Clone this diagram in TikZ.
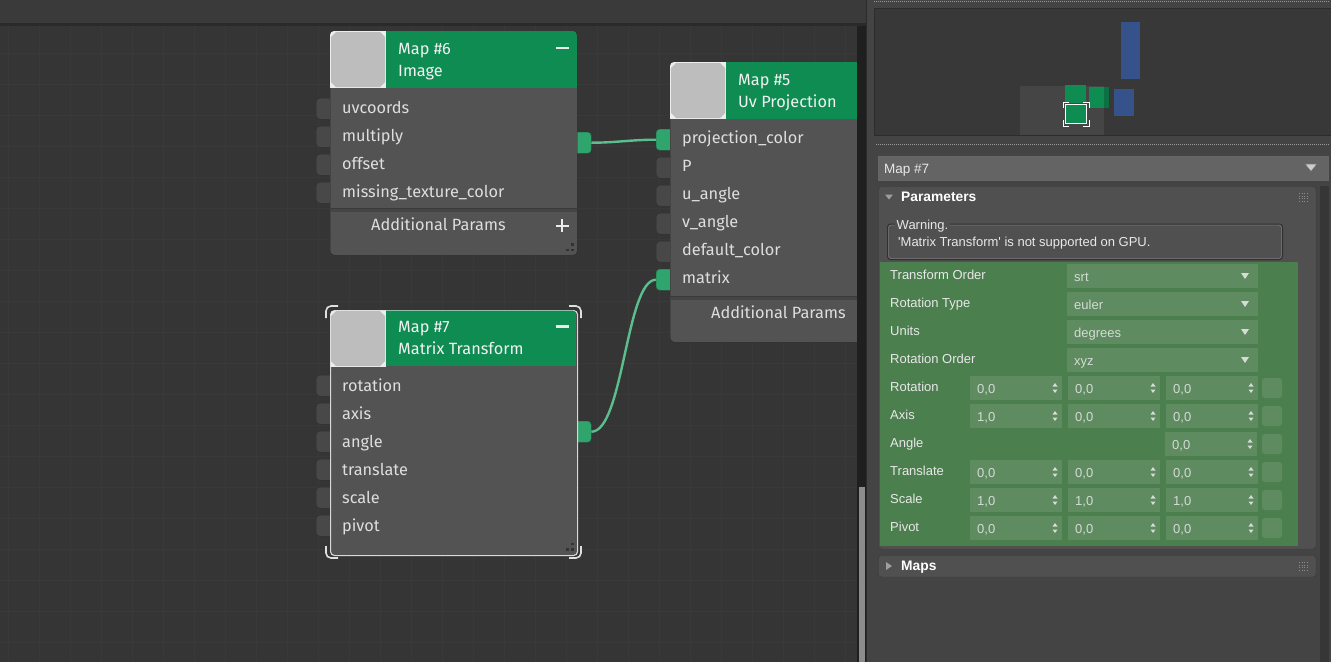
\documentclass[tikz,border=0pt]{standalone}
\usepackage{fontspec}
\setmainfont{Fira Sans}
\newfontfamily\panelfont{Liberation Sans}
\definecolor{topbar}{HTML}{3A3A3A}
\definecolor{darkline}{HTML}{2A2A2A}
\definecolor{canvasc}{HTML}{353535}
\definecolor{gridc}{HTML}{393939}
\definecolor{bodyc}{HTML}{535353}
\definecolor{bodyedge}{HTML}{2B2B2B}
\definecolor{hdrc}{HTML}{0E8C52}
\definecolor{thumbc}{HTML}{BDBDBD}
\definecolor{portc}{HTML}{484848}
\definecolor{portedge}{HTML}{2E2E2E}
\definecolor{porton}{HTML}{2FA46C}
\definecolor{wirec}{HTML}{5CBE8F}
\definecolor{labelc}{HTML}{DEDEDE}
\definecolor{sepc}{HTML}{454545}
\definecolor{sepdark}{HTML}{3A3A3A}
\definecolor{panelc}{HTML}{444444}
\definecolor{minic}{HTML}{383838}
\definecolor{miniedge}{HTML}{2C2C2C}
\definecolor{miniblue}{HTML}{36528A}
\definecolor{minigreen}{HTML}{0E8C52}
\definecolor{barc}{HTML}{646464}
\definecolor{rollc}{HTML}{505050}
\definecolor{rolledge}{HTML}{3A3A3A}
\definecolor{boxedge}{HTML}{303030}
\definecolor{greenc}{HTML}{4B7F4D}
\definecolor{fieldc}{HTML}{5E8B60}
\definecolor{ptext}{HTML}{E8E8E8}
\definecolor{vtext}{HTML}{D4DCD4}
\newcommand\myNodeFont{\fontsize{16.3}{19}\selectfont}
\newcommand\myPanelFont{\panelfont\fontsize{13}{15}\selectfont}
\newcommand\myPanelBold{\panelfont\bfseries\fontsize{13.8}{16}\selectfont}
\newcommand\thumbpic[2]{%
  \begin{scope}[shift={(#1,#2)}]
    \fill[white!93!black] (0,0) rectangle (56,57);
    \fill[thumbc] (6,1) -- (50,1) -- (55,6) -- (55,51) -- (50,56) -- (6,56) -- (1,51) -- (1,6) -- cycle;
  \end{scope}}
\newcommand\gripdots[2]{%
  \begin{scope}[shift={(#1,#2)}]
    \fill[black!80] (5,0) rectangle (7.5,2.5);
    \fill[black!80] (0,5.5) rectangle (2.5,8);
    \fill[black!80] (5,5.5) rectangle (7.5,8);
  \end{scope}}
\newcommand\spinbox[4]{%
  \fill[fieldc] (#1,#2) rectangle ({#1+92},{#2+24});
  \node[pval] (#4) at ({#1+7},{#2+17}) {#3};
  \fill[vtext] ({#1+85},{#2+7}) -- ({#1+82.5},{#2+10.5}) -- ({#1+87.5},{#2+10.5}) -- cycle;
  \fill[vtext] ({#1+85},{#2+17}) -- ({#1+82.5},{#2+13.5}) -- ({#1+87.5},{#2+13.5}) -- cycle;}
\newcommand\sqbtn[1]{%
  \fill[fieldc, rounded corners=3pt] (1262,{#1+2}) rectangle (1282,{#1+22});}
\begin{document}
\begin{tikzpicture}[x=1pt,y=-1pt,
  lbl/.style={anchor=base west, inner sep=0pt, font=\myNodeFont, text=labelc},
  hdrt/.style={anchor=base west, inner sep=0pt, font=\myNodeFont, text=white!95!black},
  pin/.style={draw=portedge, fill=portc, rounded corners=3.5pt, minimum width=18pt, minimum height=21pt, inner sep=0pt, anchor=north west},
  pon/.style={pin, fill=porton, draw=porton!70!black},
  body/.style={fill=bodyc, draw=bodyedge, rounded corners=4pt, inner sep=0pt, anchor=north west},
  wire/.style={draw=wirec, line width=2.4pt},
  plbl/.style={anchor=base west, inner sep=0pt, font=\myPanelFont, text=ptext},
  pval/.style={anchor=base west, inner sep=0pt, font=\myPanelFont, text=vtext},
  pbold/.style={anchor=base west, inner sep=0pt, font=\myPanelBold, text=white},
  bracket/.style={draw=white!88!black, line width=1.6pt, rounded corners=5pt}
]
\useasboundingbox (0,0) rectangle (1331,662);
% ---------- canvas background ----------
\fill[topbar] (0,0) rectangle (866,23);
\fill[darkline] (0,22.5) rectangle (866,26);
\fill[canvasc] (0,26) rectangle (857,662);

\begin{scope}
\clip (0,26) rectangle (857,662);
% faint grid
\foreach \k in {0,...,27} \draw[gridc, line width=1pt] ({8.3+31*\k},26) -- ({8.3+31*\k},662);
\foreach \k in {0,...,20} \draw[gridc, line width=1pt] (0,{22.3+31*\k}) -- (857,{22.3+31*\k});
% ports (drawn under bodies)
\foreach \yy [count=\i] in {98,126,154,182} \node[pin] (i6\i) at (316,\yy) {};
\foreach \yy [count=\i] in {375,403,431,459,487,515} \node[pin] (i7\i) at (316,\yy) {};
\node[pon] (i51) at (656,129) {};
\foreach \yy [count=\i from 2] in {157,185,213,241} \node[pin] (i5\i) at (656,\yy) {};
\node[pon] (i56) at (656,269) {};
\node[pon] (o6) at (573,132) {};
\node[pon] (o7) at (573,421) {};
% wires
\draw[wire] (o6.east) .. controls +(25,0) and +(-25,0) .. (i51.west);
\draw[wire] (o7.east) .. controls +(32,0) and +(-30,0) .. (i56.west);

% ---------- Map #6 ----------
\node[body, minimum width=247pt, minimum height=224pt] (n6) at (330,31) {};
\begin{scope}
  \clip[rounded corners=4pt] (330,31) rectangle (577,255);
  \fill[hdrc] (386,31) rectangle (577,88);
  \thumbpic{330}{31}
  \fill[sepc] (330,208) rectangle (577,212);
  \fill[sepdark] (330,207.5) rectangle (577,209);
\end{scope}
\node[hdrt] (h6a) at (398,54) {Map \#6};
\node[hdrt] (h6b) at (398,76) {Image};
\fill[white!92!black] (556,46.5) rectangle (569,49);
\foreach \t [count=\i from 0] in {uvcoords,multiply,offset,missing\_texture\_color}
  \node[lbl] (l6\i) at (342,{113.5+28*\i}) {\t};
\node[lbl] (a6) at (371,230.5) {Additional Params};
\fill[white!92!black] (555.5,224.5) rectangle (568.5,227);
\fill[white!92!black] (560.75,219.3) rectangle (563.25,232.3);
\gripdots{566}{243}

% ---------- Map #7 ----------
\node[body, draw=white!85!black, line width=1.1pt, minimum width=247pt, minimum height=245pt] (n7) at (330,310) {};
\begin{scope}
  \clip[rounded corners=4pt] (330.6,310.6) rectangle (576.4,554.4);
  \fill[hdrc] (386,310) rectangle (577,366);
  \thumbpic{330}{310}
\end{scope}
\draw[bracket] (326,318) -- (326,306) -- (338,306);
\draw[bracket] (569,306) -- (581,306) -- (581,318);
\draw[bracket] (326,546) -- (326,558) -- (338,558);
\draw[bracket] (569,558) -- (581,558) -- (581,546);
\node[hdrt] (h7a) at (398,332) {Map \#7};
\node[hdrt] (h7b) at (398,354.5) {Matrix Transform};
\fill[white!92!black] (556,325) rectangle (569,327.5);
\foreach \t [count=\i from 0] in {rotation,axis,angle,translate,scale,pivot}
  \node[lbl] (l7\i) at (342,{391.5+28*\i}) {\t};
\gripdots{566}{542.5}

% ---------- Map #5 ----------
\node[body, minimum width=247pt, minimum height=280pt] (n5) at (670,62) {};
\begin{scope}
  \clip[rounded corners=4pt] (670,62) rectangle (917,342);
  \fill[hdrc] (726,62) rectangle (917,119);
  \thumbpic{670}{62}
  \fill[sepc] (670,296) rectangle (917,300);
  \fill[sepdark] (670,295.5) rectangle (917,297);
\end{scope}
\node[hdrt] (h5a) at (738,85) {Map \#5};
\node[hdrt] (h5b) at (738,107) {Uv Projection};
\foreach \t [count=\i from 0] in {projection\_color,P,u\_angle,v\_angle,default\_color,matrix}
  \node[lbl] (l5\i) at (682,{143.5+28*\i}) {\t};
\node[lbl] (a5) at (711,318) {Additional Params};
\end{scope}

% canvas scrollbar
\fill[black!88] (857,26) rectangle (866,662);
\fill[black!45] (858.5,487) rectangle (864.5,662);

% ---------- right panel ----------
\fill[panelc] (866,0) rectangle (1331,662);
\fill[black!83] (866,0) rectangle (867,662);
\draw[black!40, line width=1pt, dash pattern=on 1pt off 1pt] (874,1.5) -- (1329,1.5);
\draw[black!40, line width=1pt, dash pattern=on 1pt off 1pt] (876,144.5) -- (1329,144.5);
% minimap
\fill[minic, draw=miniedge] (874.5,8.5) rectangle (1332,135.5);
\fill[white!27!black] (1020,86) rectangle (1104,135);
\fill[miniblue] (1121,22) rectangle (1140,79);
\fill[miniblue] (1114,89) rectangle (1134,116);
\fill[minigreen] (1065,85) rectangle (1086,103);
\fill[minigreen] (1089,87) rectangle (1109,108);
\fill[minigreen!80!black] (1104,87) rectangle (1109,108);
\fill[minigreen, draw=white, line width=0.8pt] (1065.5,104.5) rectangle (1086.5,123.5);
\draw[white, line width=0.8pt] (1063,108) -- (1063,102) -- (1069,102);
\draw[white, line width=0.8pt] (1083,102) -- (1089,102) -- (1089,108);
\draw[white, line width=0.8pt] (1063,120) -- (1063,126) -- (1069,126);
\draw[white, line width=0.8pt] (1083,126) -- (1089,126) -- (1089,120);
% Map #7 bar
\fill[barc, draw=black!60] (878.5,156.5) rectangle (1328,180);
\node[plbl, font=\panelfont\fontsize{13.5}{15}\selectfont] (mtitle) at (884,173) {Map \#7};
\fill[white!80!black, draw=black!55, line width=0.6pt] (1305,164) -- (1317,164) -- (1311,171.5) -- cycle;
% panel scrollbar strip
\fill[black!20!panelc] (1320,186) rectangle (1329,662);
% Parameters rollout
\fill[rollc, draw=rolledge, rounded corners=3pt] (878.5,186.5) rectangle (1316,549);
\fill[white!62!black] (885,194.5) -- (893,194.5) -- (889,199.5) -- cycle;
\node[pbold] (ptitle) at (901,201.5) {Parameters};
\foreach \gx in {0,2.5,5,7.5} \foreach \gy in {0,2.5,5,7.5}
  \fill[white!55!black] ({1299+\gx},{193+\gy}) rectangle ({1300+\gx},{194+\gy});
% warning box
\draw[boxedge, line width=1pt, rounded corners=3pt] (887.5,224) rectangle (1282.5,259.5);
\draw[white!25!rollc, line width=0.6pt, rounded corners=2.5pt] (888.6,225.1) rectangle (1281.4,258.4);
\node[plbl, fill=rollc, inner sep=1.5pt] (wlbl) at (895,229.5) {Warning.};
\node[plbl] (wtxt) at (898,246.5) {'Matrix Transform' is not supported on GPU.};
% green parameter area
\fill[greenc] (880,262) rectangle (1298,546);
\foreach \t [count=\i from 0] in {Transform Order,Rotation Type,Units,Rotation Order,Rotation,Axis,Angle,Translate,Scale,Pivot}
  \node[plbl] (pl\i) at (890,{279+28*\i}) {\t};
\foreach \v [count=\i from 0] in {srt,euler,degrees,xyz} {
  \fill[fieldc] (1067,{264+28*\i}) rectangle (1258,{288+28*\i});
  \node[pval] (dd\i) at (1074,{281+28*\i}) {\v};
  \fill[vtext] (1241,{273+28*\i}) -- (1249,{273+28*\i}) -- (1245,{279+28*\i}) -- cycle;
}
% spinner rows
\spinbox{970}{376}{0,0}{s11}\spinbox{1068}{376}{0,0}{s12}\spinbox{1166}{376}{0,0}{s13}\sqbtn{376}
\spinbox{970}{404}{1,0}{s21}\spinbox{1068}{404}{0,0}{s22}\spinbox{1166}{404}{0,0}{s23}\sqbtn{404}
\spinbox{1165}{432}{0,0}{s33}\sqbtn{432}
\spinbox{970}{460}{0,0}{s41}\spinbox{1068}{460}{0,0}{s42}\spinbox{1166}{460}{0,0}{s43}\sqbtn{460}
\spinbox{970}{488}{1,0}{s51}\spinbox{1068}{488}{1,0}{s52}\spinbox{1166}{488}{1,0}{s53}\sqbtn{488}
\spinbox{970}{516}{0,0}{s61}\spinbox{1068}{516}{0,0}{s62}\spinbox{1166}{516}{0,0}{s63}\sqbtn{516}
% Maps rollout
\fill[rollc, draw=rolledge, rounded corners=3pt] (878.5,555.5) rectangle (1316,577);
\fill[white!62!black] (886,562) -- (886,570) -- (892,566) -- cycle;
\node[pbold] (mapsl) at (901,570.5) {Maps};
\foreach \gx in {0,2.5,5,7.5} \foreach \gy in {0,2.5,5,7.5}
  \fill[white!55!black] ({1299+\gx},{562+\gy}) rectangle ({1300+\gx},{563+\gy});
\end{tikzpicture}
\end{document}
